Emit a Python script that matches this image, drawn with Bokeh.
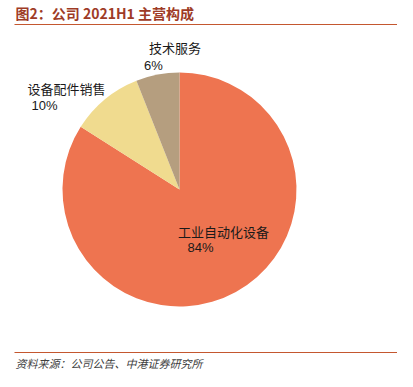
import numpy as np
from bokeh.plotting import figure
from bokeh.models import Range1d, ColumnDataSource
from bokeh.core.properties import value
from bokeh.embed import file_html
from bokeh.resources import INLINE

categories = ["工业自动化设备", "设备配件销售", "技术服务"]
shares = [84, 10, 6]
pct_labels = ["84%", "10%", "6%"]
colors = ["#EE7450", "#F0DB8F", "#B59E7F"]

title_text = "图2：公司 2021H1 主营构成"
source_text = "资料来源：公司公告、中港证券研究所"

W, H = 397, 371
p = figure(width=W, height=H, output_backend="svg", toolbar_location=None,
           x_range=Range1d(0, W), y_range=Range1d(0, H), min_border=0)
p.axis.visible = False
p.grid.visible = False
p.outline_line_color = None
p.background_fill_color = "white"

def sy(y):  # picture y -> data y
    return H - y

def sx(x):
    return x

frac = np.array(shares, dtype=float) / sum(shares)
cum = np.concatenate([[0], np.cumsum(frac)])
start = np.pi / 2 - cum[1:] * 2 * np.pi
end = np.pi / 2 - cum[:-1] * 2 * np.pi

src = ColumnDataSource(dict(start=start, end=end, color=colors, cat=categories))
p.wedge(x=sx(179), y=sy(189), radius=117, radius_units="screen",
        start_angle="start", end_angle="end", fill_color="color",
        line_color=None, source=src)

# labels
cat_pos = [(223, 231), (66, 88), (174.5, 47)]
pct_pos = [(200, 247), (44, 105), (153, 65)]
p.text(x=[sx(a) for a, b in cat_pos], y=[sy(b) for a, b in cat_pos], text=categories,
       text_align="center", text_baseline="middle", text_font_size="13px",
       text_font=value("Noto Sans CJK SC"), text_color="#1a1a1a")
p.text(x=[sx(a) for a, b in pct_pos], y=[sy(b) for a, b in pct_pos], text=pct_labels,
       text_align="center", text_baseline="middle", text_font_size="13px",
       text_font=value("Liberation Sans"), text_color="#1a1a1a")

# title and source
p.text(x=[sx(15)], y=[sy(12)], text=[title_text], text_align="left", text_baseline="middle",
       text_font_size="14px", text_font_style="bold", text_font=value("Noto Sans CJK SC"),
       text_color="#9E3B26")
p.segment(x0=[sx(14)], y0=[sy(24)], x1=[sx(397)], y1=[sy(24)], line_color="#C4572F", line_width=1.2)
p.segment(x0=[sx(14)], y0=[sy(352)], x1=[sx(397)], y1=[sy(352)], line_color="#C4572F", line_width=1.2)
p.text(x=[sx(15)], y=[sy(362)], text=[source_text], text_align="left", text_baseline="middle",
       text_font_size="11px", text_font_style="italic", text_font=value("Noto Sans CJK SC"),
       text_color="#404040")

open("out.html", "w").write(file_html(p, INLINE))
